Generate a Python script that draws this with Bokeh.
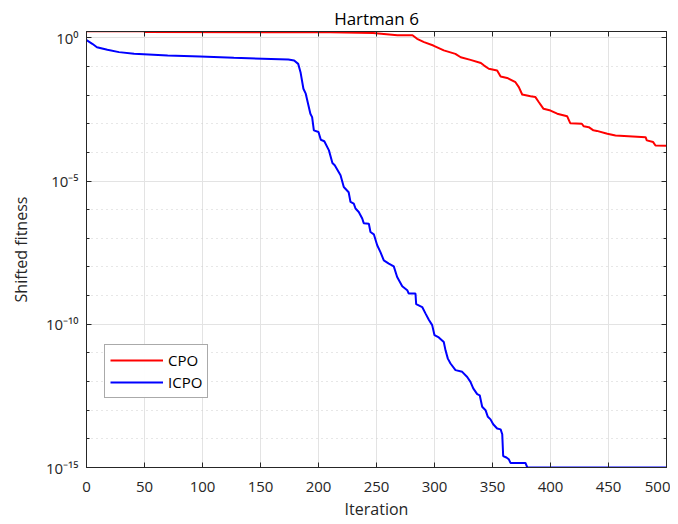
import numpy as np
from bokeh.plotting import figure
from bokeh.models import Range1d, FixedTicker, LinearAxis, LogAxis, Legend, LegendItem
from bokeh.embed import file_html
from bokeh.resources import INLINE

# ---- data (log10 of shifted fitness) ----
cpo_iter = [0, 50, 50, 210, 247, 268, 281, 285, 291, 299, 308, 318, 322.6, 331, 340, 342.5,
            346.8, 354, 357, 362.6, 369.8, 372.7, 375.6, 382.8, 387, 390, 394, 400, 405.8,
            414.4, 417, 427, 428.7, 433, 437, 440, 449, 456, 482, 483, 488.5, 490.5, 500]
cpo_log = [0.23, 0.23, 0.20, 0.195, 0.17, 0.09, 0.09, -0.035, -0.15, -0.27, -0.44, -0.56, -0.68,
           -0.77, -0.88, -0.96, -1.08, -1.14, -1.35, -1.40, -1.55, -1.72, -1.98, -2.04, -2.07,
           -2.25, -2.48, -2.54, -2.65, -2.74, -2.98, -3.00, -3.09, -3.12, -3.23, -3.25, -3.35,
           -3.41, -3.47, -3.58, -3.64, -3.76, -3.77]

icpo_iter = [0, 5, 9, 18, 28, 41, 70, 98, 127, 174, 179, 182.5, 184.5, 187, 189, 193, 194.5,
             196, 200, 202, 205, 209, 212, 214, 219, 221.8, 226, 227.6, 230.4, 231.9, 234.7,
             237.7, 239, 243.4, 244.8, 247.7, 250.6, 253.4, 256.3, 260.6, 264.9, 267.8, 272.2,
             276.5, 277.8, 283.6, 284.2, 289.4, 292.2, 295.1, 298, 300, 303.7, 308, 309.5,
             311.5, 313.8, 318.1, 323.9, 328.2, 331, 333.4, 336.8, 339, 341.1, 344, 346, 348.3,
             350.6, 354, 357, 358.4, 359.2, 362, 364, 365.5, 378.4, 380, 500]
icpo_log = [-0.08, -0.21, -0.33, -0.42, -0.50, -0.56, -0.62, -0.65, -0.70, -0.76, -0.79, -0.91,
            -1.20, -1.78, -1.95, -2.65, -2.77, -3.23, -3.29, -3.56, -3.61, -3.93, -4.37, -4.45,
            -4.80, -5.21, -5.39, -5.73, -5.79, -5.96, -6.08, -6.31, -6.47, -6.49, -6.78, -6.86,
            -7.24, -7.48, -7.77, -7.88, -7.98, -8.35, -8.67, -8.81, -8.93, -8.93, -9.30, -9.40,
            -9.62, -9.84, -10.03, -10.38, -10.46, -10.62, -10.91, -11.20, -11.37, -11.60, -11.66,
            -11.84, -12.01, -12.24, -12.44, -12.48, -12.88, -13.0, -13.23, -13.32, -13.49, -13.64,
            -13.67, -13.84, -14.60, -14.65, -14.71, -14.84, -14.84, -15.0, -15.0]

x_ticks = [0, 50, 100, 150, 200, 250, 300, 350, 400, 450, 500]
y_ticks = [1e-15, 1e-10, 1e-5, 1.0]
y_tick_labels = ["10\u207b\u00b9\u2075", "10\u207b\u00b9\u2070", "10\u207b\u2075", "10\u2070"]
y_minor = [10.0 ** k for k in range(-15, 1)]

FONT = "Open Sans"
AX = "#262626"

p = figure(frame_width=580, frame_height=436, output_backend="svg", toolbar_location=None,
           y_axis_type="log", x_range=Range1d(0, 500), y_range=Range1d(1e-15, 10 ** 0.22),
           min_border_left=86, min_border_right=4, min_border_top=31, min_border_bottom=50)

p.title.text = "Hartman 6"
p.title.align = "center"
p.title.text_font = FONT
p.title.text_font_size = "17px"
p.title.text_font_style = "normal"
p.title.text_color = "black"
p.title.standoff = 3

r_cpo = p.line(cpo_iter, [10.0 ** v for v in cpo_log], line_color="#ff0000", line_width=2)
r_icpo = p.line(icpo_iter, [10.0 ** v for v in icpo_log], line_color="#0000ff", line_width=2)

# axes
p.xaxis.ticker = FixedTicker(ticks=x_ticks)
p.yaxis.ticker = FixedTicker(ticks=y_ticks, minor_ticks=y_minor)
p.yaxis.major_label_overrides = {t: l for t, l in zip(y_ticks, y_tick_labels)}
for ax in (p.xaxis[0], p.yaxis[0]):
    ax.major_tick_in = 5
    ax.major_tick_out = 0
    ax.minor_tick_in = 3
    ax.minor_tick_out = 0
    ax.axis_line_color = AX
    ax.major_tick_line_color = AX
    ax.minor_tick_line_color = AX
    ax.major_label_text_font = FONT
    ax.major_label_text_font_size = "15px"
    ax.major_label_text_color = AX
    ax.axis_label_text_font = FONT
    ax.axis_label_text_font_size = "16px"
    ax.axis_label_text_font_style = "normal"
    ax.axis_label_text_color = AX
p.xaxis.minor_tick_line_color = None
p.xaxis.axis_label = "Iteration"
p.yaxis.axis_label = "Shifted fitness"
p.xaxis.major_label_standoff = 14
p.xaxis.axis_label_standoff = 3
p.yaxis.major_label_standoff = 8
p.yaxis.axis_label_standoff = 11

# box-style right / top axes (ticks only)
rax = LogAxis(ticker=FixedTicker(ticks=y_ticks, minor_ticks=y_minor))
tax = LinearAxis(ticker=FixedTicker(ticks=x_ticks))
for ax in (rax, tax):
    ax.major_label_text_font_size = "1px"
    ax.major_label_text_color = None
    ax.major_label_standoff = 0
    ax.major_tick_in = 5
    ax.major_tick_out = 0
    ax.minor_tick_in = 3
    ax.minor_tick_out = 0
    ax.axis_line_color = AX
    ax.major_tick_line_color = AX
    ax.minor_tick_line_color = AX
tax.minor_tick_line_color = None
p.add_layout(rax, "right")
p.add_layout(tax, "above")

# grids
p.xgrid.grid_line_color = "#e3e3e3"
p.ygrid.grid_line_color = "#e3e3e3"
p.ygrid.minor_grid_line_color = "#cfcfcf"
p.ygrid.minor_grid_line_dash = "1 4"
p.outline_line_color = AX

# legend
legend = Legend(items=[LegendItem(label="CPO", renderers=[r_cpo]),
                       LegendItem(label="ICPO", renderers=[r_icpo])],
                location=(18, 69), label_text_font=FONT, label_text_font_size="15px",
                label_text_color="black", glyph_width=53, glyph_height=20, label_height=20,
                padding=5, spacing=2, label_standoff=5, margin=0,
                border_line_color="#555555", border_line_width=1)
p.add_layout(legend)

open("out.html", "w").write(file_html(p, INLINE))
